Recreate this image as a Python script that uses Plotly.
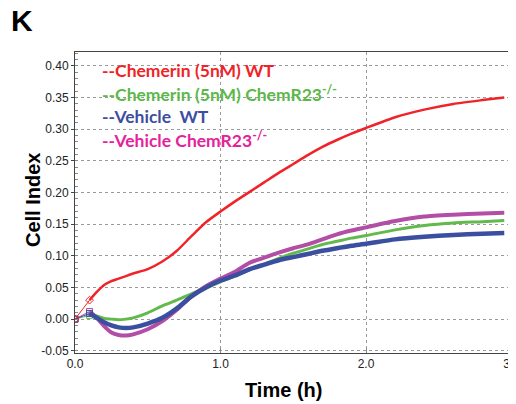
import plotly.graph_objects as go

# ---- data ----
time_h = [0.0, 0.10, 0.15, 0.20, 0.25, 0.30, 0.35, 0.40, 0.50, 0.60, 0.70, 0.80, 0.90,
          1.00, 1.10, 1.20, 1.30, 1.40, 1.50, 1.60, 1.70, 1.80, 1.90, 2.00, 2.20, 2.40,
          2.60, 2.80, 2.95]

chemerin_wt = [0.0, 0.030, 0.043, 0.054, 0.060, 0.064, 0.068, 0.072, 0.079, 0.091, 0.108,
               0.131, 0.153, 0.170, 0.186, 0.201, 0.216, 0.231, 0.245, 0.259, 0.272, 0.283,
               0.293, 0.302, 0.319, 0.331, 0.340, 0.346, 0.350]

chemerin_ko = [0.0, 0.006, 0.005, 0.001, 0.000, -0.001, 0.000, 0.002, 0.010, 0.021, 0.030,
               0.040, 0.049, 0.059, 0.068, 0.078, 0.087, 0.096, 0.104, 0.111, 0.118, 0.123,
               0.128, 0.132, 0.141, 0.148, 0.152, 0.154, 0.156]

vehicle_wt = [0.0, 0.009, 0.002, -0.005, -0.010, -0.013, -0.014, -0.013, -0.007, 0.002,
              0.017, 0.036, 0.050, 0.061, 0.069, 0.079, 0.086, 0.093, 0.098, 0.103, 0.108,
              0.112, 0.116, 0.119, 0.126, 0.130, 0.133, 0.135, 0.136]

vehicle_ko = [0.0, 0.012, 0.002, -0.011, -0.021, -0.025, -0.026, -0.024, -0.016, -0.003,
              0.015, 0.036, 0.052, 0.064, 0.075, 0.089, 0.097, 0.105, 0.112, 0.118, 0.126,
              0.134, 0.140, 0.145, 0.155, 0.162, 0.165, 0.167, 0.168]

y_tick_vals = [-0.05, 0.0, 0.05, 0.10, 0.15, 0.20, 0.25, 0.30, 0.35, 0.40]
y_tick_text = ["-0.05", "0.00", "0.05", "0.10", "0.15", "0.20", "0.25", "0.30", "0.35", "0.40"]
x_tick_vals = [0.0, 1.0, 2.0, 3.0]
x_tick_text = ["0.0", "1.0", "2.0", "3.0"]

legend_labels = ["--Chemerin (5nM) WT", "--Chemerin (5nM) ChemR23<sup>-/-</sup>",
                 "--Vehicle\u00a0\u00a0WT", "--Vehicle ChemR23<sup>-/-</sup>"]

series = [
    (chemerin_wt, "#f02428", 2.5, "#f02428", "diamond-open"),
    (chemerin_ko, "#62b94c", 3.0, "#5cb84a", "square-open"),
    (vehicle_wt, "#3a4f9f", 4.5, "#3d4ea0", "square-open"),
    (vehicle_ko, "#b24ea6", 4.0, "#e4239b", "square-open"),
]

fig = go.Figure()
# draw order: green, magenta, blue, red on top
for idx in [1, 3, 2, 0]:
    vals, col, lw, tcol, sym = series[idx]
    fig.add_trace(go.Scatter(x=time_h[:2], y=vals[:2], mode="lines+markers",
                             line=dict(color=col, width=1),
                             marker=dict(symbol=sym, size=6, color=col, line=dict(width=1, color=col)),
                             showlegend=False, hoverinfo="skip"))
    fig.add_trace(go.Scatter(x=time_h[1:], y=vals[1:], mode="lines",
                             line=dict(color=col, width=lw, shape="spline", smoothing=0.6),
                             showlegend=False))

ys = [0.939, 0.863, 0.785, 0.708]
for lab, (vals, col, lw, tcol, sym), yy in zip(legend_labels, series, ys):
    fig.add_annotation(text="<b>" + lab + "</b>", xref="paper", yref="paper", x=0.057, y=yy,
                       xanchor="left", yanchor="middle", showarrow=False,
                       font=dict(family="Lato", size=17.5, color=tcol))

fig.add_annotation(text="<b>K</b>", xref="paper", yref="paper", x=-0.150, y=1.104,
                   xanchor="left", yanchor="middle", showarrow=False,
                   font=dict(family="Liberation Sans", size=30, color="black"))
fig.add_annotation(text="<b>Cell Index</b>", xref="paper", yref="paper", x=-0.096, y=0.508,
                   xanchor="center", yanchor="middle", textangle=-90, showarrow=False,
                   font=dict(family="Liberation Sans", size=20, color="black"))
fig.add_annotation(text="<b>Time (h)</b>", xref="paper", yref="paper", x=0.475, y=-0.123,
                   xanchor="center", yanchor="middle", showarrow=False,
                   font=dict(family="Liberation Sans", size=20, color="black"))

# page body has an 8px default margin: figure is 8px smaller and shifted accordingly
fig.update_layout(
    width=508, height=396,
    margin=dict(l=67, r=3, t=44, b=51, autoexpand=False),
    plot_bgcolor="white", paper_bgcolor="white",
    font=dict(family="Liberation Sans", size=12, color="#222"),
)
fig.update_xaxes(range=[0, 3.01], tickvals=x_tick_vals, ticktext=x_tick_text,
                 showgrid=True, gridcolor="#9a9a9a", griddash="dot", gridwidth=1,
                 zeroline=False, showline=True, linecolor="#444", linewidth=1, mirror=True,
                 ticks="inside", ticklen=5, tickcolor="#888", automargin=False,
                 ticklabeloverflow="allow",
                 tickfont=dict(size=12, color="#222"))
fig.update_yaxes(range=[-0.0535, 0.422], tickvals=y_tick_vals, ticktext=y_tick_text,
                 showgrid=True, gridcolor="#9a9a9a", griddash="dot", gridwidth=1,
                 zeroline=False, showline=True, linecolor="#444", linewidth=1, mirror=True,
                 ticks="outside", ticklen=3, tickcolor="#444", automargin=False,
                 minor=dict(dtick=0.01, tick0=0, ticks="inside", ticklen=3, tickcolor="#888", showgrid=False),
                 tickfont=dict(size=12, color="#222"))

fig.write_html("out.html")
